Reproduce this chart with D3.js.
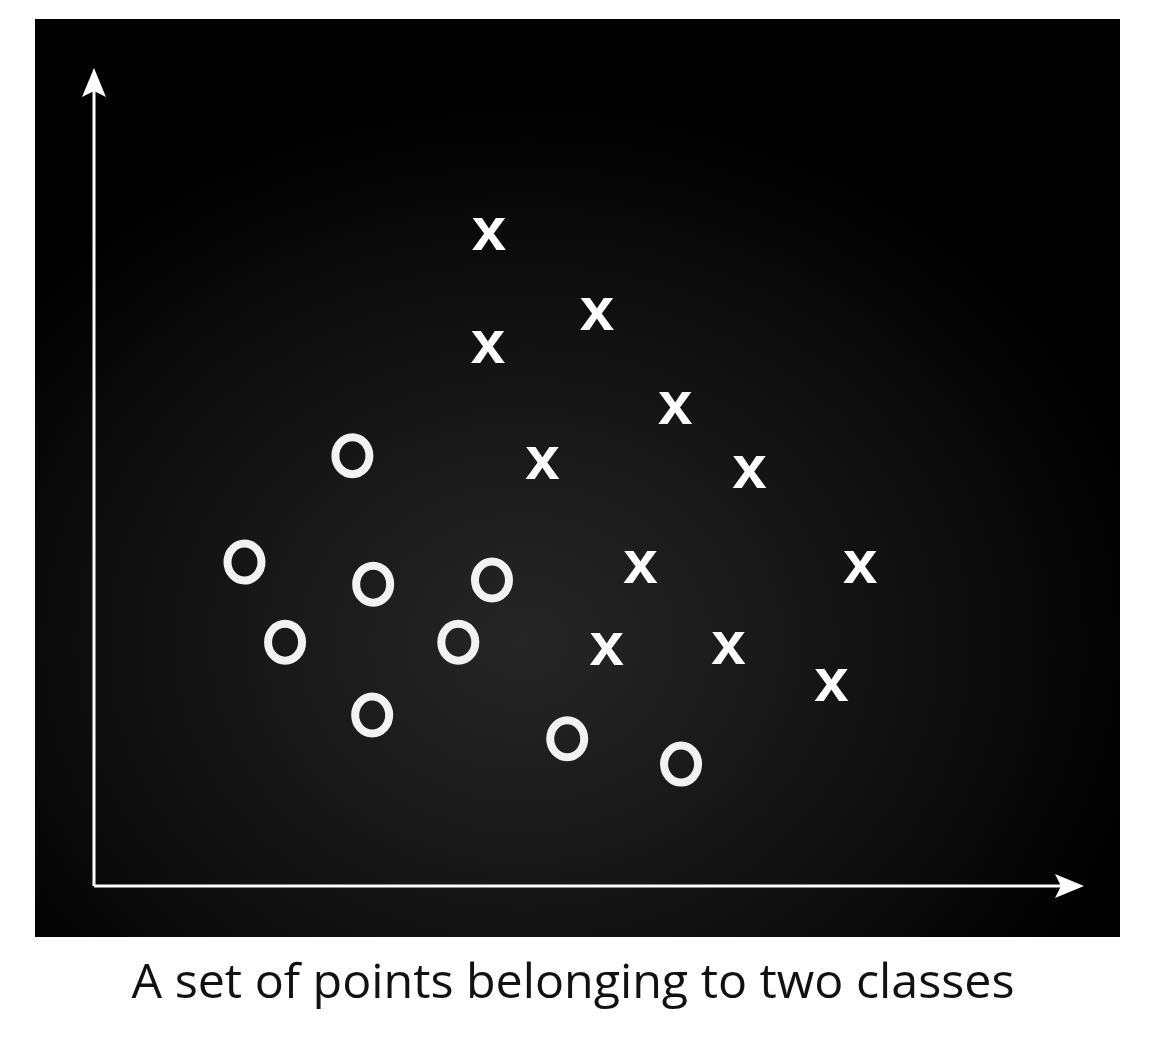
<!DOCTYPE html>
<html>
<head>
<meta charset="utf-8">
<script src="https://cdn.jsdelivr.net/npm/d3@7"></script>
<style>
  html, body { margin: 0; padding: 0; background: #fff; }
  svg { display: block; }
</style>
</head>
<body>
<svg class="chart_svg"></svg>
<script>
// Class "x" points (data units, 0-100 on both axes)
const xClassX = [39.9, 50.8, 39.8, 58.7, 45.3, 66.2, 55.2, 77.4, 51.8, 64.1, 74.5];
const xClassY = [79.7, 69.9, 65.9, 58.4, 51.7, 50.6, 39.0, 39.0, 29.0, 29.1, 24.6];

// Class "o" points
const oClassX = [26.1, 15.2, 28.2, 40.2, 19.3, 36.8, 28.1, 47.8, 59.3];
const oClassY = [52.6, 39.6, 36.9, 37.4, 29.8, 29.8, 20.9, 18.0, 14.9];

const caption = "A set of points belonging to two classes";

// Set the dimensions
const W = 1168, H = 1056;
const panel = { left: 35, top: 19, right: 1120, bottom: 937 };

const svg = d3.select(".chart_svg")
  .attr("width", W)
  .attr("height", H);

// Dark glow in the panel (the scan is a bit grey in the middle)
const defs = svg.append("defs");
const grad = defs.append("radialGradient")
  .attr("id", "glow")
  .attr("cx", "0.45").attr("cy", "0.68").attr("r", "0.6");
grad.append("stop").attr("offset", "0").attr("stop-color", "#262626");
grad.append("stop").attr("offset", "0.55").attr("stop-color", "#121212");
grad.append("stop").attr("offset", "1").attr("stop-color", "#000");

svg.append("rect")
  .attr("x", panel.left)
  .attr("y", panel.top)
  .attr("width", panel.right - panel.left)
  .attr("height", panel.bottom - panel.top)
  .attr("fill", "url(#glow)");

// Scales (axis origin at bottom left, arrow tips at 100)
const x_scale = d3.scaleLinear().domain([0, 100]).range([94, 1084]);
const y_scale = d3.scaleLinear().domain([0, 100]).range([886, 68]);

const g = svg.append("g");

// Axes as plain white arrows
g.append("line")
  .attr("x1", x_scale(0)).attr("y1", y_scale(0))
  .attr("x2", x_scale(0)).attr("y2", y_scale(100) + 20)
  .attr("stroke", "#fff").attr("stroke-width", 3);

g.append("line")
  .attr("x1", x_scale(0)).attr("y1", y_scale(0))
  .attr("x2", x_scale(100) - 20).attr("y2", y_scale(0))
  .attr("stroke", "#fff").attr("stroke-width", 3);

// arrow heads
const ty = [x_scale(0), y_scale(100)];
g.append("path")
  .attr("d", `M${ty[0]},${ty[1]} L${ty[0] + 12},${ty[1] + 29} L${ty[0]},${ty[1] + 23} L${ty[0] - 12},${ty[1] + 29} Z`)
  .attr("fill", "#fff");

const tx = [x_scale(100), y_scale(0)];
g.append("path")
  .attr("d", `M${tx[0]},${tx[1]} L${tx[0] - 29},${tx[1] - 12} L${tx[0] - 23},${tx[1]} L${tx[0] - 29},${tx[1] + 12} Z`)
  .attr("fill", "#fff");

// "x" markers
const xData = xClassX.map((v, i) => ({ x: v, y: xClassY[i] }));
g.selectAll(".mark_x")
  .data(xData)
  .join("text")
  .attr("class", "mark_x")
  .attr("x", d => x_scale(d.x))
  .attr("y", d => y_scale(d.y) + 16)
  .attr("text-anchor", "middle")
  .style("font-family", "'Liberation Sans', Arial, sans-serif")
  .style("font-weight", "bold")
  .style("font-size", "62px")
  .style("fill", "#fff")
  .text("x");

// "o" markers
const oData = oClassX.map((v, i) => ({ x: v, y: oClassY[i] }));
g.selectAll(".mark_o")
  .data(oData)
  .join("ellipse")
  .attr("class", "mark_o")
  .attr("cx", d => x_scale(d.x))
  .attr("cy", d => y_scale(d.y))
  .attr("rx", 17)
  .attr("ry", 18.5)
  .attr("fill", "none")
  .attr("stroke", "#f2f2f2")
  .attr("stroke-width", 8);

// Caption
svg.append("text")
  .attr("x", 573)
  .attr("y", 998)
  .attr("text-anchor", "middle")
  .attr("textLength", 883)
  .attr("lengthAdjust", "spacingAndGlyphs")
  .style("font-family", "'Open Sans', 'Noto Sans', sans-serif")
  .style("font-size", "48px")
  .style("fill", "#111")
  .text(caption);
</script>
</body>
</html>
